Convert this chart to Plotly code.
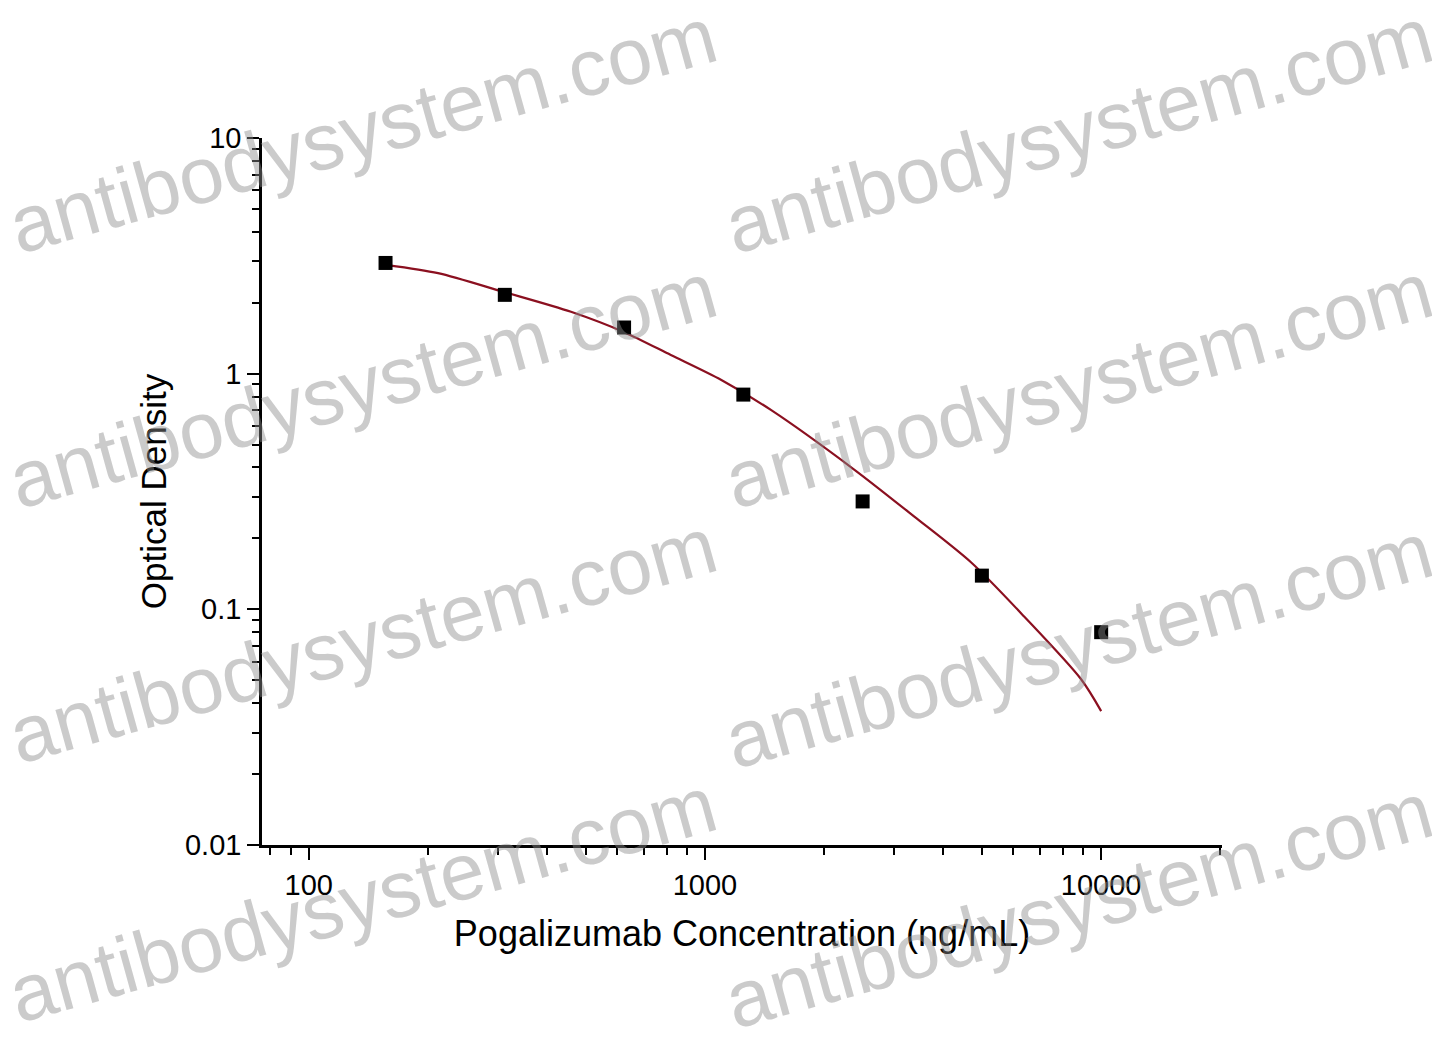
import plotly.graph_objects as go

# measured standards
conc = [156.25, 312.5, 625, 1250, 2500, 5000, 10000]
od = [2.95, 2.16, 1.57, 0.815, 0.287, 0.139, 0.080]

# fitted curve
curve_conc = [158, 212, 311, 459, 625, 820, 1100, 1470, 2380, 3370, 4700, 6400, 8900, 10000]
curve_od = [2.89, 2.67, 2.22, 1.83, 1.50, 1.20, 0.94, 0.70, 0.392, 0.248, 0.158, 0.093, 0.0505, 0.037]

x_ticks = [100, 1000, 10000]
y_ticks = [0.01, 0.1, 1, 10]

watermark = "antibodysystem.com"
wm_pos = [(362, 130), (1078, 130), (362, 385), (1078, 385),
          (362, 640), (1078, 645), (362, 900), (1078, 905)]

W, H = 1440, 1046
# plot box in page pixels
L, R, T, B = 262, 1222, 138, 845
FONT = "Liberation Sans, Arial, sans-serif"

fig = go.Figure()

fig.add_trace(go.Scatter(
    x=curve_conc, y=curve_od, mode="lines",
    line=dict(color="#8b1020", width=2.2, shape="spline", smoothing=0.8),
    showlegend=False, hoverinfo="skip"
))
fig.add_trace(go.Scatter(
    x=conc, y=od, mode="markers",
    marker=dict(symbol="square", size=14, color="black"),
    showlegend=False
))

# watermark, positions given in page pixels -> plot-area paper coords
for cx, cy in wm_pos:
    fig.add_annotation(
        text=watermark,
        x=(cx - L) / (R - L), y=(B - cy) / (B - T),
        xref="paper", yref="paper", xanchor="center", yanchor="middle",
        showarrow=False, textangle=-15.5,
        font=dict(family=FONT, size=80, color="rgba(140,140,140,0.45)")
    )

axis_common = dict(
    type="log", showgrid=False, zeroline=False,
    showline=True, linecolor="black", linewidth=2.5,
    ticks="outside", ticklen=12, tickwidth=2, tickcolor="black",
    tickfont=dict(family=FONT, size=29, color="black"),
    minor=dict(ticks="outside", ticklen=7, tickwidth=1.8, tickcolor="black",
               dtick="D1", showgrid=False),
)

fig.update_xaxes(
    **axis_common,
    range=[1.882, 4.305],
    tickvals=x_ticks, ticktext=[str(v) for v in x_ticks],
    title=dict(text="Pogalizumab Concentration (ng/mL)",
               font=dict(family=FONT, size=36, color="black"), standoff=22),
)
fig.update_yaxes(
    **axis_common,
    range=[-2, 1],
    tickvals=y_ticks, ticktext=["0.01", "0.1", "1", "10"],
    title=dict(text="Optical Density",
               font=dict(family=FONT, size=35, color="black"), standoff=8),
)

# the page adds an 8px body margin, so shift the box back by that much
fig.update_layout(
    width=W, height=H,
    margin=dict(l=L - 8, r=W - R + 8, t=T - 8, b=H - B + 8),
    plot_bgcolor="white", paper_bgcolor="white",
)

fig.write_html("out.html")
